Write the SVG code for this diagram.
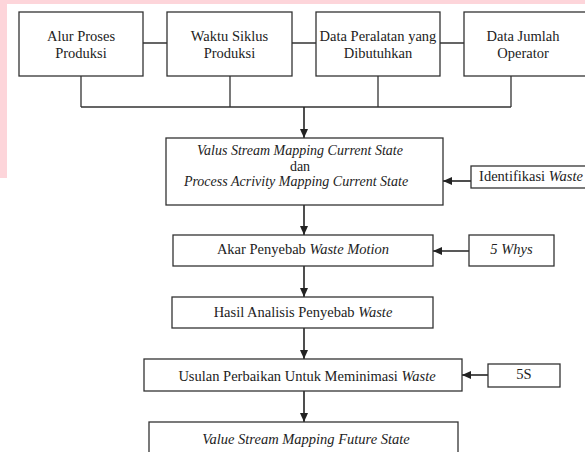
<svg xmlns="http://www.w3.org/2000/svg" width="585" height="452" viewBox="0 0 585 452">
<defs>
<marker id="ah" markerWidth="10" markerHeight="8" refX="9" refY="4" orient="auto" markerUnits="userSpaceOnUse">
<path d="M0,0 L9,4 L0,8 Z" fill="#222"/>
</marker>
<style>
.box{fill:#fff;stroke:#333;stroke-width:1.3}
.ln{fill:none;stroke:#333;stroke-width:1.3}
.ar{fill:none;stroke:#222;stroke-width:1.6;marker-end:url(#ah)}
text{font-family:"Liberation Serif","Times New Roman",serif;font-size:14.5px;fill:#222;text-anchor:middle}
.i{font-style:italic}
.s{font-size:14px}
</style>
</defs>
<rect x="0" y="0" width="585" height="452" fill="#fff"/>
<rect x="0" y="0" width="585" height="4" fill="#fdd5da"/>
<rect x="0" y="0" width="7" height="178" fill="#fdd5da"/>
<g id="connectors">
<path class="ln" d="M143,43 H167 M292,43 H316 M440,43 H464"/>
<path class="ln" d="M81,76 V107 M230,76 V107 M378,76 V107 M511,76 V107 M81,107 H511"/>
<path class="ar" d="M304,107 V138"/>
<path class="ar" d="M471,181 H443"/>
<path class="ar" d="M304,205 V235"/>
<path class="ar" d="M469,251 H433"/>
<path class="ar" d="M304,266 V297"/>
<path class="ar" d="M304,328 V359"/>
<path class="ar" d="M488,375 H462"/>
<path class="ar" d="M304,391 V422"/>
</g>
<g id="n1"><rect class="box" x="19" y="12" width="124" height="64"/><text x="81" y="41">Alur Proses</text><text x="81" y="58">Produksi</text></g>
<g id="n2"><rect class="box" x="167" y="12" width="125" height="64"/><text x="229.5" y="41">Waktu Siklus</text><text x="229.5" y="58">Produksi</text></g>
<g id="n3"><rect class="box" x="316" y="12" width="124" height="64"/><text x="378" y="41">Data Peralatan yang</text><text x="378" y="58">Dibutuhkan</text></g>
<g id="n4"><rect class="box" x="464" y="12" width="130" height="64"/><text x="523" y="41">Data Jumlah</text><text x="523" y="58">Operator</text></g>
<g id="vsm"><rect class="box" x="166" y="138" width="277" height="67"/><text class="i s" x="300" y="155">Valus Stream Mapping Current State</text><text class="s" x="300" y="170.5">dan</text><text class="i s" x="296" y="186">Process Acrivity Mapping Current State</text></g>
<g id="ident"><rect class="box" x="471" y="166" width="130" height="22"/><text x="531" y="181">Identifikasi <tspan class="i">Waste</tspan></text></g>
<g id="akar"><rect class="box" x="173" y="235" width="260" height="31"/><text x="303" y="254">Akar Penyebab <tspan class="i">Waste Motion</tspan></text></g>
<g id="whys"><rect class="box" x="469" y="235" width="85" height="31"/><text class="i" x="511.5" y="254">5 Whys</text></g>
<g id="hasil"><rect class="box" x="172" y="297" width="261" height="31"/><text x="303" y="317">Hasil Analisis Penyebab <tspan class="i">Waste</tspan></text></g>
<g id="usulan"><rect class="box" x="144" y="359" width="318" height="32"/><text x="307" y="381">Usulan Perbaikan Untuk Meminimasi <tspan class="i">Waste</tspan></text></g>
<g id="s5"><rect class="box" x="488" y="364" width="72" height="23"/><text x="524" y="379">5S</text></g>
<g id="future"><rect class="box" x="149" y="422" width="309" height="40"/><text class="i" x="306" y="444">Value Stream Mapping Future State</text></g>
</svg>
